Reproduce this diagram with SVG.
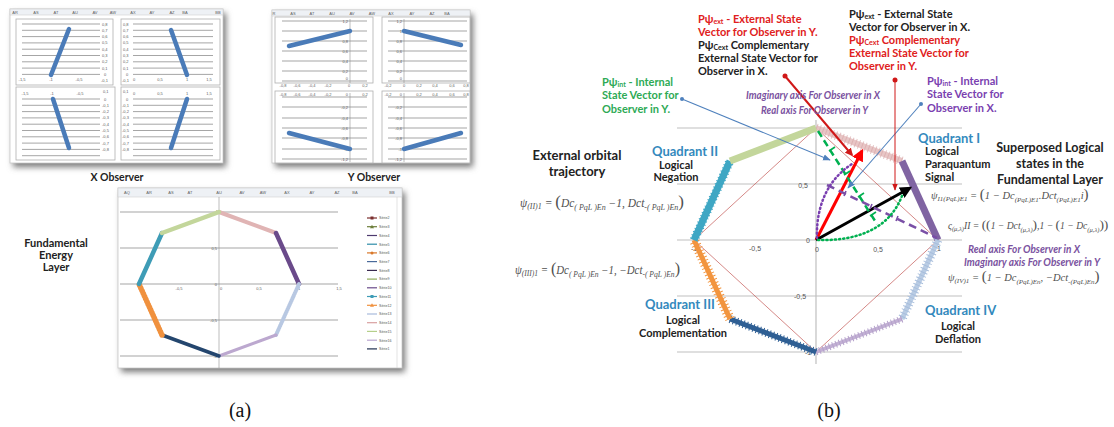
<svg xmlns="http://www.w3.org/2000/svg" width="1114" height="427" viewBox="0 0 1114 427">
<style>
.frame{fill:#fff;stroke:#c8c8c8;stroke-width:0.8}
.sub{fill:#fff;stroke:#b0b0b0;stroke-width:0.8}
.hdr{fill:#eef1f5;stroke:#c8c8c8;stroke-width:0.5}
.grid{stroke:#808080;stroke-width:0.7}
.axis{stroke:#909090;stroke-width:0.6}
.tl{font-family:"Liberation Sans",sans-serif;font-size:4px;fill:#606060}
.tlc{font-family:"Liberation Sans",sans-serif;font-size:4px;fill:#606060;text-anchor:middle}
.tle{font-family:"Liberation Sans",sans-serif;font-size:4px;fill:#606060;text-anchor:end}
.ser{stroke:#4a7bb8;stroke-width:4.5;stroke-linecap:round;fill:none}
.lbl{font-family:Lato,"Liberation Sans",sans-serif;font-weight:bold;fill:#222}
.lblc{font-family:Lato,"Liberation Sans",sans-serif;font-weight:bold;fill:#222;text-anchor:middle}
.quad{font-family:Lato,"Liberation Sans",sans-serif;font-weight:bold;fill:#3389bd;font-size:13px}
.t11{font-family:Lato,"Liberation Sans",sans-serif;font-weight:bold;font-size:11px}
.sb{font-size:7px}
.ax{font-family:Lato,"Liberation Sans",sans-serif;font-weight:bold;font-style:italic;font-size:10.5px;fill:#7a52a0}
.f{font-family:"Liberation Serif",serif;font-style:italic;font-size:11.5px;fill:#505050}
.fr{font-family:"Liberation Serif",serif;font-style:italic;font-size:10.5px;fill:#505050}
.fq{font-family:"Liberation Serif",serif;font-style:italic;font-size:9.6px;fill:#505050}
.fs{font-size:8px}
.fs2{font-size:7px}
.fs3{font-size:6.5px}
.bp{font-size:17px;font-style:normal}
.bp2{font-size:15px;font-style:normal}
.bp3{font-size:13.5px;font-style:normal}
.g2{stroke:#bfbfbf;stroke-width:1.2}
.diam{stroke:#c0504d;stroke-width:0.8;fill:none;opacity:0.85}
.bl{font-family:"Liberation Sans",sans-serif;font-size:7px;fill:#555;text-anchor:middle}
.cap{font-family:"Liberation Serif",serif;font-size:20px;fill:#111;text-anchor:middle}
.leg{font-family:"Liberation Sans",sans-serif;font-size:3.6px;fill:#555}
</style>
<defs>
<filter id="sh" x="-10%" y="-10%" width="120%" height="130%"><feGaussianBlur stdDeviation="3"/></filter>
<marker id="aRed" viewBox="0 0 10 10" refX="8" refY="5" markerWidth="4" markerHeight="4" orient="auto"><path d="M0,0 L10,5 L0,10 z" fill="#ff0000"/></marker>
<marker id="aDRed" viewBox="0 0 10 10" refX="8" refY="5" markerWidth="4" markerHeight="4" orient="auto"><path d="M0,0 L10,5 L0,10 z" fill="#d01818"/></marker>
<marker id="aBlk" viewBox="0 0 10 10" refX="8" refY="5" markerWidth="4" markerHeight="4" orient="auto"><path d="M0,0 L10,5 L0,10 z" fill="#000"/></marker>
<marker id="aBlu" viewBox="0 0 10 10" refX="9" refY="5" markerWidth="7" markerHeight="7" orient="auto"><path d="M0,1 L10,5 L0,9 z" fill="#4f81bd"/></marker>
<marker id="aThin" viewBox="0 0 10 10" refX="9" refY="5" markerWidth="7" markerHeight="7" orient="auto"><path d="M0,1 L10,5 L0,9 z" fill="#d01818"/></marker>
</defs>

<!-- ===== Panel (a): X Observer ===== -->
<g id="x-observer">
<rect x="13" y="13" width="213" height="154" fill="#777" filter="url(#sh)"/>
<rect class="frame" x="10" y="9" width="213" height="154"/>
<rect class="hdr" x="10" y="9" width="213" height="6"/>
<g class="tlc"><text x="15" y="13.5">AR</text><text x="36" y="13.5">AS</text><text x="56" y="13.5">AT</text><text x="75" y="13.5">AU</text><text x="95" y="13.5">AV</text><text x="113" y="13.5">AW</text><text x="133" y="13.5">AX</text><text x="152" y="13.5">AY</text><text x="172" y="13.5">AZ</text><text x="185" y="13.5">BA</text><text x="218" y="13.5">BB</text></g>
<rect class="sub" x="16" y="19" width="97" height="66"/>
<g class="grid"><line x1="22" y1="24" x2="100" y2="24"/><line x1="22" y1="30.3" x2="100" y2="30.3"/><line x1="22" y1="36.6" x2="100" y2="36.6"/><line x1="22" y1="42.9" x2="100" y2="42.9"/><line x1="22" y1="49.2" x2="100" y2="49.2"/><line x1="22" y1="55.5" x2="100" y2="55.5"/><line x1="22" y1="61.8" x2="100" y2="61.8"/><line x1="22" y1="68.1" x2="100" y2="68.1"/><line x1="22" y1="74.4" x2="100" y2="74.4"/></g>
<g class="tl"><text x="102" y="25.5">0,8</text><text x="102" y="31.8">0,7</text><text x="102" y="38.1">0,6</text><text x="102" y="44.4">0,5</text><text x="102" y="50.7">0,4</text><text x="102" y="57">0,3</text><text x="102" y="63.3">0,2</text><text x="102" y="69.6">0,1</text><text x="104" y="75.9">0</text><text x="101" y="82">-0,1</text></g>
<g class="tlc"><text x="22" y="81">-1,5</text><text x="51" y="81">-1</text><text x="79" y="81">-0,5</text></g>
<line class="ser" x1="51" y1="75" x2="69" y2="29"/>
<rect class="sub" x="121" y="19" width="99" height="66"/>
<g class="grid"><line x1="133" y1="24" x2="213" y2="24"/><line x1="133" y1="30.3" x2="213" y2="30.3"/><line x1="133" y1="36.6" x2="213" y2="36.6"/><line x1="133" y1="42.9" x2="213" y2="42.9"/><line x1="133" y1="49.2" x2="213" y2="49.2"/><line x1="133" y1="55.5" x2="213" y2="55.5"/><line x1="133" y1="61.8" x2="213" y2="61.8"/><line x1="133" y1="68.1" x2="213" y2="68.1"/><line x1="133" y1="74.4" x2="213" y2="74.4"/></g>
<g class="tl"><text x="123" y="25.5">0,8</text><text x="123" y="31.8">0,7</text><text x="123" y="38.1">0,6</text><text x="123" y="44.4">0,5</text><text x="123" y="50.7">0,4</text><text x="123" y="57">0,3</text><text x="123" y="63.3">0,2</text><text x="123" y="69.6">0,1</text><text x="126" y="75.9">0</text><text x="122" y="82">-0,1</text></g>
<g class="tlc"><text x="134" y="81">0</text><text x="160" y="81">0,5</text><text x="187" y="81">1</text><text x="209" y="81">1,5</text></g>
<line class="ser" x1="171" y1="30" x2="187" y2="75"/>
<rect class="sub" x="16" y="87" width="99" height="73"/>
<g class="grid"><line x1="22" y1="99" x2="100" y2="99"/><line x1="22" y1="105.3" x2="100" y2="105.3"/><line x1="22" y1="111.6" x2="100" y2="111.6"/><line x1="22" y1="117.9" x2="100" y2="117.9"/><line x1="22" y1="124.2" x2="100" y2="124.2"/><line x1="22" y1="130.5" x2="100" y2="130.5"/><line x1="22" y1="136.8" x2="100" y2="136.8"/><line x1="22" y1="143.1" x2="100" y2="143.1"/><line x1="22" y1="149.4" x2="100" y2="149.4"/><line x1="22" y1="155.7" x2="100" y2="155.7"/></g>
<g class="tlc"><text x="25" y="95">-1,5</text><text x="52" y="95">-1</text><text x="80" y="95">-0,5</text></g>
<g class="tl"><text x="103" y="93">0,1</text><text x="104" y="100.5">0</text><text x="102" y="106.8">-0,1</text><text x="102" y="113.1">-0,2</text><text x="102" y="119.4">-0,3</text><text x="102" y="125.7">-0,4</text><text x="102" y="132">-0,5</text><text x="102" y="138.3">-0,6</text><text x="102" y="144.6">-0,7</text><text x="102" y="150.9">-0,8</text></g>
<line class="ser" x1="53" y1="99" x2="69" y2="148"/>
<rect class="sub" x="121" y="87" width="99" height="73"/>
<g class="grid"><line x1="133" y1="99" x2="213" y2="99"/><line x1="133" y1="105.3" x2="213" y2="105.3"/><line x1="133" y1="111.6" x2="213" y2="111.6"/><line x1="133" y1="117.9" x2="213" y2="117.9"/><line x1="133" y1="124.2" x2="213" y2="124.2"/><line x1="133" y1="130.5" x2="213" y2="130.5"/><line x1="133" y1="136.8" x2="213" y2="136.8"/><line x1="133" y1="143.1" x2="213" y2="143.1"/><line x1="133" y1="149.4" x2="213" y2="149.4"/><line x1="133" y1="155.7" x2="213" y2="155.7"/></g>
<g class="tlc"><text x="134" y="95">0</text><text x="160" y="95">0,5</text><text x="187" y="95">1</text><text x="209" y="95">1,5</text></g>
<g class="tl"><text x="123" y="93">0,1</text><text x="126" y="100.5">0</text><text x="122" y="106.8">-0,1</text><text x="122" y="113.1">-0,2</text><text x="122" y="119.4">-0,3</text><text x="122" y="125.7">-0,4</text><text x="122" y="132">-0,5</text><text x="122" y="138.3">-0,6</text><text x="122" y="144.6">-0,7</text><text x="122" y="150.9">-0,8</text></g>
<line class="ser" x1="187" y1="99" x2="171" y2="148"/>
<text class="lblc" x="117" y="181" font-size="10.5">X  Observer</text>
</g>

<!-- ===== Panel (a): Y Observer ===== -->
<g id="y-observer">
<rect x="275" y="14" width="198" height="153" fill="#777" filter="url(#sh)"/>
<rect class="frame" x="272" y="10" width="198" height="153"/>
<rect class="hdr" x="272" y="10" width="198" height="6"/>
<g class="tlc"><text x="274" y="14.5">R</text><text x="293" y="14.5">AS</text><text x="312" y="14.5">AT</text><text x="332" y="14.5">AU</text><text x="352" y="14.5">AV</text><text x="372" y="14.5">AW</text><text x="391" y="14.5">AX</text><text x="412" y="14.5">AY</text><text x="432" y="14.5">AZ</text><text x="447" y="14.5">BA</text></g>
<rect class="sub" x="275" y="17" width="98" height="66"/>
<g class="grid"><line x1="282" y1="21" x2="367" y2="21"/><line x1="282" y1="31" x2="367" y2="31"/><line x1="282" y1="41" x2="367" y2="41"/><line x1="282" y1="51" x2="367" y2="51"/><line x1="282" y1="61" x2="367" y2="61"/><line x1="282" y1="71" x2="367" y2="71"/><line x1="282" y1="81" x2="367" y2="81"/></g>
<line class="axis" x1="350" y1="19" x2="350" y2="83"/>
<g class="tle"><text x="348" y="22.5">1,2</text><text x="348" y="32.5">1</text><text x="348" y="42.5">0,8</text><text x="348" y="52.5">0,6</text><text x="348" y="62.5">0,4</text><text x="348" y="72.5">0,2</text><text x="348" y="80">0</text></g>
<g class="tlc"><text x="283" y="87">-0,8</text><text x="297" y="87">-0,6</text><text x="312" y="87">-0,4</text><text x="328" y="87">-0,2</text><text x="349" y="87">0</text><text x="365" y="87">0,2</text></g>
<line class="ser" x1="289" y1="46" x2="350" y2="31"/>
<rect class="sub" x="382" y="17" width="88" height="66"/>
<g class="grid"><line x1="388" y1="21" x2="467" y2="21"/><line x1="388" y1="31" x2="467" y2="31"/><line x1="388" y1="41" x2="467" y2="41"/><line x1="388" y1="51" x2="467" y2="51"/><line x1="388" y1="61" x2="467" y2="61"/><line x1="388" y1="71" x2="467" y2="71"/><line x1="388" y1="81" x2="467" y2="81"/></g>
<line class="axis" x1="404" y1="19" x2="404" y2="83"/>
<g class="tle"><text x="402" y="22.5">1,2</text><text x="402" y="32.5">1</text><text x="402" y="42.5">0,8</text><text x="402" y="52.5">0,6</text><text x="402" y="62.5">0,4</text><text x="402" y="72.5">0,2</text><text x="402" y="80">0</text></g>
<g class="tlc"><text x="388" y="87">-0,2</text><text x="404" y="87">0</text><text x="419" y="87">0,2</text><text x="435" y="87">0,4</text><text x="452" y="87">0,6</text><text x="466" y="87">0,8</text></g>
<line class="ser" x1="404" y1="31" x2="461" y2="45"/>
<rect class="sub" x="275" y="91" width="98" height="72"/>
<g class="grid"><line x1="282" y1="97" x2="367" y2="97"/><line x1="282" y1="107" x2="367" y2="107"/><line x1="282" y1="118" x2="367" y2="118"/><line x1="282" y1="128" x2="367" y2="128"/><line x1="282" y1="138" x2="367" y2="138"/><line x1="282" y1="149" x2="367" y2="149"/><line x1="282" y1="159" x2="367" y2="159"/></g>
<line class="axis" x1="350" y1="93" x2="350" y2="162"/>
<g class="tlc"><text x="283" y="96">-0,8</text><text x="297" y="96">-0,6</text><text x="312" y="96">-0,4</text><text x="328" y="96">-0,2</text><text x="365" y="96">0,2</text></g>
<g class="tle"><text x="348" y="96">0</text><text x="348" y="108.5">-0,2</text><text x="348" y="119.5">-0,4</text><text x="348" y="129.5">-0,6</text><text x="348" y="139.5">-0,8</text><text x="348" y="150.5">-1</text><text x="348" y="160.5">-1,2</text></g>
<line class="ser" x1="289" y1="133" x2="350" y2="149"/>
<rect class="sub" x="382" y="91" width="88" height="72"/>
<g class="grid"><line x1="388" y1="97" x2="467" y2="97"/><line x1="388" y1="107" x2="467" y2="107"/><line x1="388" y1="118" x2="467" y2="118"/><line x1="388" y1="128" x2="467" y2="128"/><line x1="388" y1="138" x2="467" y2="138"/><line x1="388" y1="149" x2="467" y2="149"/><line x1="388" y1="159" x2="467" y2="159"/></g>
<line class="axis" x1="404" y1="93" x2="404" y2="162"/>
<g class="tlc"><text x="388" y="96">-0,2</text><text x="419" y="96">0,2</text><text x="435" y="96">0,4</text><text x="452" y="96">0,6</text><text x="466" y="96">0,8</text></g>
<g class="tle"><text x="402" y="96">0</text><text x="402" y="108.5">-0,2</text><text x="402" y="119.5">-0,4</text><text x="402" y="129.5">-0,6</text><text x="402" y="139.5">-0,8</text><text x="402" y="150.5">-1</text><text x="402" y="160.5">-1,2</text></g>
<line class="ser" x1="404" y1="149" x2="461" y2="133"/>
<text class="lblc" x="374" y="181" font-size="10.5">Y  Observer</text>
</g>

<!-- ===== Panel (a): Fundamental layer ===== -->
<g id="fundamental-layer">
<rect x="121" y="192" width="284" height="180" fill="#777" filter="url(#sh)"/>
<rect class="frame" x="118" y="188" width="284" height="180"/>
<rect class="hdr" x="118" y="188" width="284" height="9"/>
<g class="tlc"><text x="127" y="194">AQ</text><text x="149" y="194">AR</text><text x="171" y="194">AS</text><text x="190" y="194">AT</text><text x="219" y="194">AU</text><text x="242" y="194">AV</text><text x="263" y="194">AW</text><text x="287" y="194">AX</text><text x="312" y="194">AY</text><text x="337" y="194">AZ</text><text x="355" y="194">BA</text><text x="392" y="194">BB</text></g>
<line x1="397" y1="197" x2="397" y2="368" stroke="#d0d0d0" stroke-width="0.6"/>
<g class="grid"><line x1="120" y1="212" x2="338" y2="212"/><line x1="120" y1="248" x2="338" y2="248"/><line x1="120" y1="284" x2="338" y2="284"/><line x1="120" y1="320" x2="338" y2="320"/><line x1="120" y1="356" x2="338" y2="356"/></g>
<line class="axis" x1="219" y1="197" x2="219" y2="368"/>
<g class="tlc"><text x="179" y="290">-0,5</text><text x="221" y="290">0</text><text x="259" y="290">0,5</text><text x="299" y="290">1</text><text x="339" y="290">1,5</text></g>
<g class="tle"><text x="217" y="250">0,5</text><text x="217" y="286">0</text><text x="217" y="322">-0,5</text><text x="217" y="358">-1</text><text x="218" y="213">1</text></g>
<g fill="none" stroke-linecap="round">
<line x1="219" y1="212" x2="276" y2="233" stroke="#e0b4b4" stroke-width="4"/>
<line x1="276" y1="233" x2="299" y2="284" stroke="#6a4a8a" stroke-width="4.5"/>
<line x1="299" y1="284" x2="276" y2="335" stroke="#b8c8e2" stroke-width="4" stroke-dasharray="1 1.5"/>
<line x1="299" y1="284" x2="276" y2="335" stroke="#b8c8e2" stroke-width="2"/>
<line x1="276" y1="335" x2="219" y2="356" stroke="#bca8cf" stroke-width="3"/>
<line x1="219" y1="356" x2="162" y2="335" stroke="#24466e" stroke-width="3.5"/>
<line x1="162" y1="335" x2="139" y2="284" stroke="#f0913e" stroke-width="3"/>
<line x1="162" y1="335" x2="139" y2="284" stroke="#f0913e" stroke-width="5.5" stroke-dasharray="1 2"/>
<line x1="139" y1="284" x2="162" y2="233" stroke="#3e9cb6" stroke-width="4.5"/>
<line x1="162" y1="233" x2="219" y2="212" stroke="#c3d69b" stroke-width="4.5"/>
</g>
<g stroke-width="1.2">
<line x1="367" y1="218" x2="377" y2="218" stroke="#7b2e2e"/><rect x="370.5" y="216.5" width="3" height="3" fill="#7b2e2e"/>
<line x1="367" y1="226.7" x2="377" y2="226.7" stroke="#6d7e3a"/><path d="M372,224.7 L374,228.2 L370,228.2z" fill="#6d7e3a"/>
<line x1="367" y1="235.5" x2="377" y2="235.5" stroke="#4e3a6e"/>
<line x1="367" y1="244.2" x2="377" y2="244.2" stroke="#2e8ca8"/>
<line x1="367" y1="252.9" x2="377" y2="252.9" stroke="#d9782a"/><circle cx="372" cy="252.9" r="1.5" fill="#d9782a"/>
<line x1="367" y1="261.6" x2="377" y2="261.6" stroke="#4a6a9a"/>
<line x1="367" y1="270.4" x2="377" y2="270.4" stroke="#3a2a50"/>
<line x1="367" y1="279.1" x2="377" y2="279.1" stroke="#8faa58"/>
<line x1="367" y1="287.8" x2="377" y2="287.8" stroke="#6a4a8a"/>
<line x1="367" y1="296.5" x2="377" y2="296.5" stroke="#3e9cb6"/><rect x="370.5" y="295" width="3" height="3" fill="#3e9cb6"/>
<line x1="367" y1="305.3" x2="377" y2="305.3" stroke="#f0913e"/><path d="M372,303.3 L374,306.8 L370,306.8z" fill="#f0913e"/>
<line x1="367" y1="314" x2="377" y2="314" stroke="#a9bbdc"/>
<line x1="367" y1="322.7" x2="377" y2="322.7" stroke="#d9a0a0"/>
<line x1="367" y1="331.4" x2="377" y2="331.4" stroke="#b5cf8a"/>
<line x1="367" y1="340.2" x2="377" y2="340.2" stroke="#b9a6d0"/>
<line x1="367" y1="348.9" x2="377" y2="348.9" stroke="#1f2f4f"/>
</g>
<g class="leg"><text x="379" y="219.3">Série2</text><text x="379" y="228">Série3</text><text x="379" y="236.8">Série4</text><text x="379" y="245.5">Série5</text><text x="379" y="254.2">Série6</text><text x="379" y="262.9">Série7</text><text x="379" y="271.7">Série8</text><text x="379" y="280.4">Série9</text><text x="379" y="289.1">Série10</text><text x="379" y="297.8">Série11</text><text x="379" y="306.6">Série12</text><text x="379" y="315.3">Série13</text><text x="379" y="324">Série14</text><text x="379" y="332.7">Série15</text><text x="379" y="341.5">Série16</text><text x="379" y="350.2">Série1</text></g>
<g class="lblc" font-size="11"><text x="56" y="247">Fundamental</text><text x="56" y="259">Energy</text><text x="56" y="271">Layer</text></g>
</g>
<text class="cap" x="240" y="417">(a)</text>

<!-- ===== Panel (b) ===== -->
<g id="b-chart">
<g class="g2"><line x1="677" y1="128" x2="962" y2="128"/><line x1="677" y1="184" x2="962" y2="184"/><line x1="677" y1="240" x2="962" y2="240"/><line x1="677" y1="296" x2="962" y2="296"/><line x1="677" y1="352" x2="962" y2="352"/></g>
<line x1="816" y1="120" x2="816" y2="364" stroke="#bfbfbf" stroke-width="1.2"/>
<g class="bl"><text x="810" y="132">1</text><text x="803" y="188">0,5</text><text x="808" y="243">0</text><text x="800" y="299">-0,5</text><text x="808" y="355">-1</text>
<text x="694" y="251">-1</text><text x="755" y="251">-0,5</text><text x="817" y="252">0</text><text x="878" y="252">0,5</text><text x="939" y="251">1</text></g>
<path class="diam" d="M816,128 L938,240 L816,352 L694,240 Z"/>
<g fill="none" stroke-linecap="butt">
<line x1="816" y1="128" x2="902" y2="161" stroke="#e6c0c0" stroke-width="6" opacity="0.9"/>
<line x1="816" y1="128" x2="902" y2="161" stroke="#d8a8aa" stroke-width="9" stroke-dasharray="1 2.5" opacity="0.7"/>
<line x1="902" y1="161" x2="938" y2="240" stroke="#8064a2" stroke-width="7"/>
<line x1="938" y1="240" x2="902" y2="319" stroke="#b9cce4" stroke-width="5"/>
<line x1="938" y1="240" x2="902" y2="319" stroke="#a8bedc" stroke-width="9" stroke-dasharray="1 2.5"/>
<line x1="902" y1="319" x2="816" y2="352" stroke="#c2b0d4" stroke-width="4"/>
<line x1="902" y1="319" x2="816" y2="352" stroke="#b5a2cb" stroke-width="7" stroke-dasharray="1 2.5"/>
<line x1="816" y1="352" x2="730" y2="319" stroke="#2f5f94" stroke-width="5"/>
<line x1="816" y1="352" x2="730" y2="319" stroke="#2f5f94" stroke-width="8" stroke-dasharray="1 2.5"/>
<line x1="730" y1="319" x2="694" y2="240" stroke="#f2953f" stroke-width="5"/>
<line x1="730" y1="319" x2="694" y2="240" stroke="#f2953f" stroke-width="10" stroke-dasharray="1 2.5"/>
<line x1="694" y1="240" x2="730" y2="161" stroke="#3fa7c4" stroke-width="7"/>
<line x1="694" y1="240" x2="730" y2="161" stroke="#3fa7c4" stroke-width="9" stroke-dasharray="1 2.5"/>
<line x1="730" y1="161" x2="816" y2="128" stroke="#c3d69b" stroke-width="7"/>
</g>
</g>

<g id="connectors" fill="none">
<line x1="816" y1="240" x2="862" y2="151" stroke="#ff0000" stroke-width="3" marker-end="url(#aRed)"/>
<line x1="816" y1="240" x2="910" y2="188" stroke="#000" stroke-width="3" marker-end="url(#aBlk)"/>
<path d="M818,131 L877,224" stroke="#00b050" stroke-width="2.5" stroke-dasharray="7 4"/>
<path d="M827,185 L937,238" stroke="#7a4fa6" stroke-width="2.5" stroke-dasharray="8 5"/>
<g stroke-width="1.6"><path d="M829,151 l6,-4 M844,175 l6,-4 M858,197 l6,-4 M870,216 l6,-4" stroke="#00b050"/><path d="M846,191 l-2,5 M872,204 l-2,5 M898,216 l-2,5" stroke="#7a4fa6"/></g>
<path d="M817,238 C816,207 827,180 852,164" stroke="#7a3fb0" stroke-width="2.5" stroke-dasharray="1.2 3" stroke-linecap="round"/>
<path d="M818,240 C852,241 890,232 903,193" stroke="#00b050" stroke-width="2.5" stroke-dasharray="1.2 3" stroke-linecap="round"/>
<circle cx="682" cy="99" r="2" fill="#4f81bd"/>
<line x1="682" y1="99" x2="830" y2="160" stroke="#4f81bd" stroke-width="1.1" marker-end="url(#aBlu)"/>
<circle cx="921" cy="104" r="2" fill="#4f81bd"/>
<line x1="921" y1="104" x2="848" y2="188" stroke="#4f81bd" stroke-width="1.1" marker-end="url(#aBlu)"/>
<circle cx="785" cy="76" r="2.5" fill="#d01818"/>
<line x1="785" y1="76" x2="852" y2="155" stroke="#d01818" stroke-width="2" marker-end="url(#aDRed)"/>
<circle cx="895" cy="80" r="2.5" fill="#d01818"/>
<line x1="895" y1="80" x2="895" y2="190" stroke="#d01818" stroke-width="1" marker-end="url(#aThin)"/>
</g>

<g id="label-ext-y" class="t11">
<text x="698" y="23" fill="#e02020">Pψ<tspan class="sb" dy="1">ext</tspan><tspan dy="-1"> - External State</tspan></text>
<text x="698" y="36" fill="#e02020">Vector  for Observer in Y.</text>
<text x="698" y="49" fill="#222">Pψ<tspan class="sb" dy="1">Cext</tspan><tspan dy="-1"> Complementary</tspan></text>
<text x="698" y="62" fill="#222">External State Vector for</text>
<text x="698" y="75" fill="#222">Observer in X.</text>
</g>
<g id="label-ext-x" class="t11">
<text x="849" y="18" fill="#222">Pψ<tspan class="sb" dy="1">ext</tspan><tspan dy="-1"> - External State</tspan></text>
<text x="849" y="31" fill="#222">Vector for Observer in X.</text>
<text x="849" y="44" fill="#e02020">Pψ<tspan class="sb" dy="1">Cext</tspan><tspan dy="-1"> Complementary</tspan></text>
<text x="849" y="57" fill="#e02020">External State Vector for</text>
<text x="849" y="70" fill="#e02020">Observer in Y.</text>
</g>
<g id="label-int-y" class="t11" fill="#2eaa55">
<text x="602" y="86">Pψ<tspan class="sb" dy="1">int</tspan><tspan dy="-1"> - Internal</tspan></text>
<text x="602" y="99">State Vector for</text>
<text x="602" y="113">Observer in Y.</text>
</g>
<g id="label-int-x" class="t11" fill="#7a3fb0">
<text x="927" y="85">Pψ<tspan class="sb" dy="1">int</tspan><tspan dy="-1"> - Internal</tspan></text>
<text x="927" y="98">State Vector for</text>
<text x="927" y="112">Observer in X.</text>
</g>
<g id="label-axes-top" class="ax">
<text x="746" y="99" textLength="134" lengthAdjust="spacingAndGlyphs">Imaginary axis For Observer in X</text>
<text x="761" y="114" textLength="107" lengthAdjust="spacingAndGlyphs">Real axis For Observer in Y</text>
</g>
<g id="label-axes-right" class="ax">
<text x="968" y="253" textLength="112" lengthAdjust="spacingAndGlyphs">Real axis For Observer in X</text>
<text x="964" y="266" textLength="136" lengthAdjust="spacingAndGlyphs">Imaginary axis For Observer in Y</text>
</g>

<g id="quadrant-2"><text class="quad" x="652" y="156">Quadrant II</text>
<text class="lblc" x="676" y="169" font-size="11">Logical</text><text class="lblc" x="676" y="181" font-size="11">Negation</text></g>
<g id="quadrant-1"><text class="quad" x="918" y="143">Quadrant I</text>
<text class="lbl" x="925" y="155" font-size="11">Logical</text><text class="lbl" x="925" y="168" font-size="11">Paraquantum</text><text class="lbl" x="925" y="181" font-size="11">Signal</text></g>
<g id="quadrant-3"><text class="quad" x="645" y="309">Quadrant III</text>
<text class="lblc" x="683" y="324" font-size="11">Logical</text><text class="lblc" x="683" y="337" font-size="11">Complementation</text></g>
<g id="quadrant-4"><text class="quad" x="925" y="315">Quadrant IV</text>
<text class="lblc" x="958" y="330" font-size="11">Logical</text><text class="lblc" x="958" y="343" font-size="11">Deflation</text></g>

<g id="external-orbital" class="lblc" font-size="13"><text x="577" y="160">External orbital</text><text x="577" y="176">trajectory</text></g>
<g id="superposed" class="lblc" font-size="12.5"><text x="1050" y="152">Superposed Logical</text><text x="1050" y="168">states  in the</text><text x="1050" y="184">Fundamental Layer</text></g>

<g id="formulas">
<text class="f" x="520" y="207" textLength="164" lengthAdjust="spacingAndGlyphs">ψ<tspan class="fs" dy="2">(II)1</tspan><tspan dy="-2"> = </tspan><tspan class="bp">(</tspan>Dc<tspan class="fs" dy="3">( PqL )En</tspan><tspan dy="-3"> −1, Dct</tspan><tspan class="fs" dy="3">-( PqL )En</tspan><tspan class="bp" dy="-3">)</tspan></text>
<text class="f" x="515" y="274" textLength="165" lengthAdjust="spacingAndGlyphs">ψ<tspan class="fs" dy="2">(III)1</tspan><tspan dy="-2"> = </tspan><tspan class="bp">(</tspan>Dc<tspan class="fs" dy="3">( PqL )En</tspan><tspan dy="-3"> −1, −Dct</tspan><tspan class="fs" dy="3">-( PqL )En</tspan><tspan class="bp" dy="-3">)</tspan></text>
<text class="fr" x="931" y="199">ψ<tspan class="fs2" dy="2">I1(PqL)E1</tspan><tspan dy="-2"> = </tspan><tspan class="bp2">(</tspan>1 − Dc<tspan class="fs2" dy="3">(PqL)E1</tspan><tspan dy="-3">.Dct</tspan><tspan class="fs2" dy="3">(PqL)E1</tspan><tspan dy="-3">i</tspan><tspan class="bp2">)</tspan></text>
<text class="fq" x="948" y="229">ς<tspan class="fs3" dy="2">(μ,λ)</tspan><tspan dy="-2">II = </tspan><tspan class="bp3">((</tspan>1 − Dct<tspan class="fs3" dy="3">(μ,λ)</tspan><tspan class="bp3" dy="-3">)</tspan>,1 − <tspan class="bp3">(</tspan>1 − Dc<tspan class="fs3" dy="3">(μ,λ)</tspan><tspan class="bp3" dy="-3">))</tspan></text>
<text class="fr" x="948" y="281">ψ<tspan class="fs2" dy="2">(IV)1</tspan><tspan dy="-2"> = </tspan><tspan class="bp2">(</tspan>1 − Dc<tspan class="fs2" dy="3">(PqL)En</tspan><tspan dy="-3">, −Dct</tspan><tspan class="fs2" dy="3">-(PqL)En</tspan><tspan class="bp2" dy="-3">)</tspan></text>
</g>
<text class="cap" x="829" y="417">(b)</text>
</svg>
